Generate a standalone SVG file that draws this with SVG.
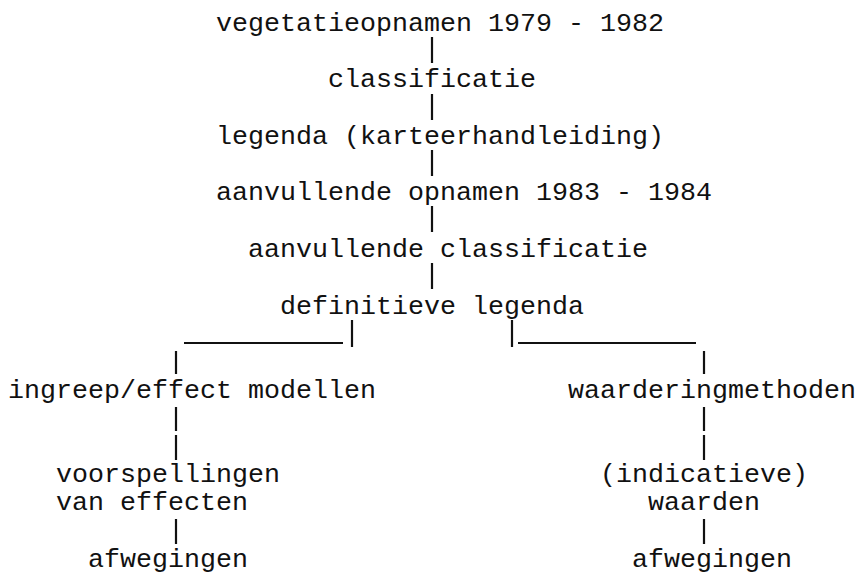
<svg xmlns="http://www.w3.org/2000/svg" width="863" height="577" viewBox="0 0 863 577">
<style>
text{font-family:"Liberation Mono","DejaVu Sans Mono",monospace;font-size:26.67px;fill:#111}
.c line{stroke:#111;stroke-width:2.2}
</style>
<rect width="863" height="577" fill="#fff"/>
<g id="connectors" class="c">
<line x1="432" y1="37" x2="432" y2="63"/>
<line x1="432" y1="94" x2="432" y2="120"/>
<line x1="432" y1="150" x2="432" y2="176"/>
<line x1="432" y1="206" x2="432" y2="232"/>
<line x1="432" y1="263" x2="432" y2="289"/>
<line x1="352" y1="320" x2="352" y2="347"/>
<line x1="512" y1="320" x2="512" y2="347"/>
<line x1="184" y1="343" x2="343" y2="343"/>
<line x1="518" y1="343" x2="696" y2="343"/>
<line x1="176" y1="351" x2="176" y2="374"/>
<line x1="704" y1="351" x2="704" y2="374"/>
<line x1="176" y1="407" x2="176" y2="431"/>
<line x1="176" y1="435" x2="176" y2="460"/>
<line x1="704" y1="407" x2="704" y2="431"/>
<line x1="704" y1="435" x2="704" y2="460"/>
<line x1="176" y1="519" x2="176" y2="544"/>
<line x1="704" y1="519" x2="704" y2="544"/>
</g>
<g id="n1"><text x="216" y="31">vegetatieopnamen 1979 - 1982</text></g>
<g id="n2"><text x="328" y="87.4">classificatie</text></g>
<g id="n3"><text x="216" y="143.8">legenda (karteerhandleiding)</text></g>
<g id="n4"><text x="216" y="200.2">aanvullende opnamen 1983 - 1984</text></g>
<g id="n5"><text x="248" y="256.6">aanvullende classificatie</text></g>
<g id="n6"><text x="280" y="313.5">definitieve legenda</text></g>
<g id="n7"><text x="8" y="397.6">ingreep/effect modellen</text></g>
<g id="n8"><text x="568" y="397.6">waarderingmethoden</text></g>
<g id="n9"><text x="56" y="482.2">voorspellingen</text><text x="56" y="510.4">van effecten</text></g>
<g id="n10"><text x="600" y="482.2">(indicatieve)</text><text x="648" y="510.4">waarden</text></g>
<g id="n11"><text x="88" y="566.8">afwegingen</text></g>
<g id="n12"><text x="632" y="566.8">afwegingen</text></g>
</svg>
